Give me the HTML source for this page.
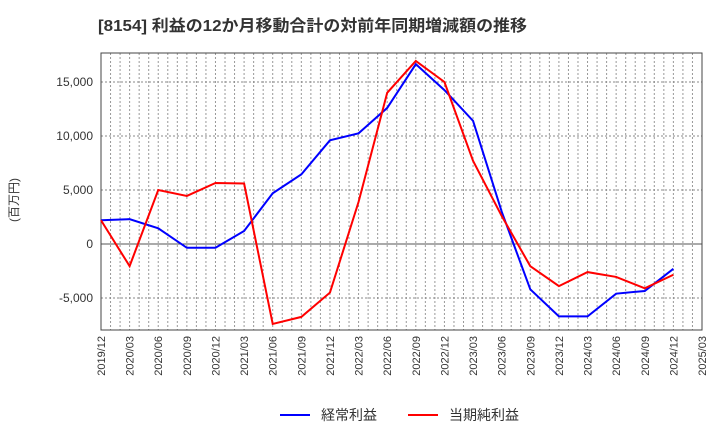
<!DOCTYPE html>
<html><head><meta charset="utf-8"><style>
body{margin:0;background:#fff;width:720px;height:440px;overflow:hidden}
svg text{font-family:"Liberation Sans","Noto Sans CJK JP",sans-serif}
</style></head><body>
<svg id="c" width="720" height="440">
<text x="98" y="31" font-size="16" font-weight="bold" fill="#333" textLength="429" lengthAdjust="spacingAndGlyphs">[8154]  利益の12か月移動合計の対前年同期増減額の推移</text>
<g id="grid"></g><g id="axes"></g><g id="series"></g>
<text transform="translate(18,200) rotate(-90)" font-size="12" fill="#333" text-anchor="middle">(百万円)</text>
<g>
<line x1="280" y1="415" x2="310" y2="415" stroke="#0000ff" stroke-width="2"/>
<text x="321" y="420" font-size="14" fill="#333">経常利益</text>
<line x1="408" y1="415" x2="438" y2="415" stroke="#ff0000" stroke-width="2"/>
<text x="449" y="420" font-size="14" fill="#333">当期純利益</text>
</g>
</svg>
<script>
const categories=["2019/12","2020/03","2020/06","2020/09","2020/12","2021/03","2021/06","2021/09","2021/12","2022/03","2022/06","2022/09","2022/12","2023/03","2023/06","2023/09","2023/12","2024/03","2024/06","2024/09","2024/12","2025/03"];
const keijo=[2200,2300,1450,-350,-350,1200,4700,6450,9600,10250,12600,16650,14250,11400,3000,-4200,-6700,-6700,-4600,-4350,-2300];
const junri=[2200,-2050,5000,4450,5650,5600,-7400,-6750,-4500,3900,14000,16950,15000,7700,2600,-2050,-3900,-2600,-3050,-4100,-2850];
const yTicks=[-5000,0,5000,10000,15000];
const L=101,R=702,T=53,B=330;
const NS="http://www.w3.org/2000/svg";
const xs=i=>L+i*(R-L)/21;
const ys=v=>244-v*54/5000;
function mk(tag,attrs,parent){const e=document.createElementNS(NS,tag);for(const k in attrs)e.setAttribute(k,attrs[k]);parent.appendChild(e);return e;}
const grid=document.getElementById('grid'),axes=document.getElementById('axes'),ser=document.getElementById('series');
for(let m=1;m<63;m++){const x=L+m*(R-L)/63;const g=mk('line',{x1:x,x2:x,y1:T,y2:B,stroke:'#999','stroke-dasharray':'2,2','stroke-width':1},grid);

}
yTicks.forEach(v=>{const y=ys(v);const g=mk('line',{x1:L,x2:R,y1:y,y2:y,stroke:v===0?'#555':'#888','stroke-dasharray':v===0?'':'2,2','stroke-width':1},grid);


const t=mk('text',{x:L-8,y:y+4,'font-size':12,fill:'#333','text-anchor':'end'},axes);t.textContent=v.toLocaleString('en-US');

});
const fr=mk('rect',{x:L,y:T,width:R-L,height:B-T,fill:'none',stroke:'#444','stroke-width':1},axes);


categories.forEach((c,i)=>{const x=xs(i);const t=mk('text',{transform:`translate(${x+4},${B+6}) rotate(-90)`,'font-size':11,fill:'#333','text-anchor':'end'},axes);t.textContent=c;

});
[[keijo,'#0000ff','keijo-line'],[junri,'#ff0000','junri-line']].forEach(([d,col,n])=>{
const p=mk('polyline',{points:d.map((v,i)=>xs(i)+','+ys(v)).join(' '),fill:'none',stroke:col,'stroke-width':2},ser);

});
</script>
</body></html>
